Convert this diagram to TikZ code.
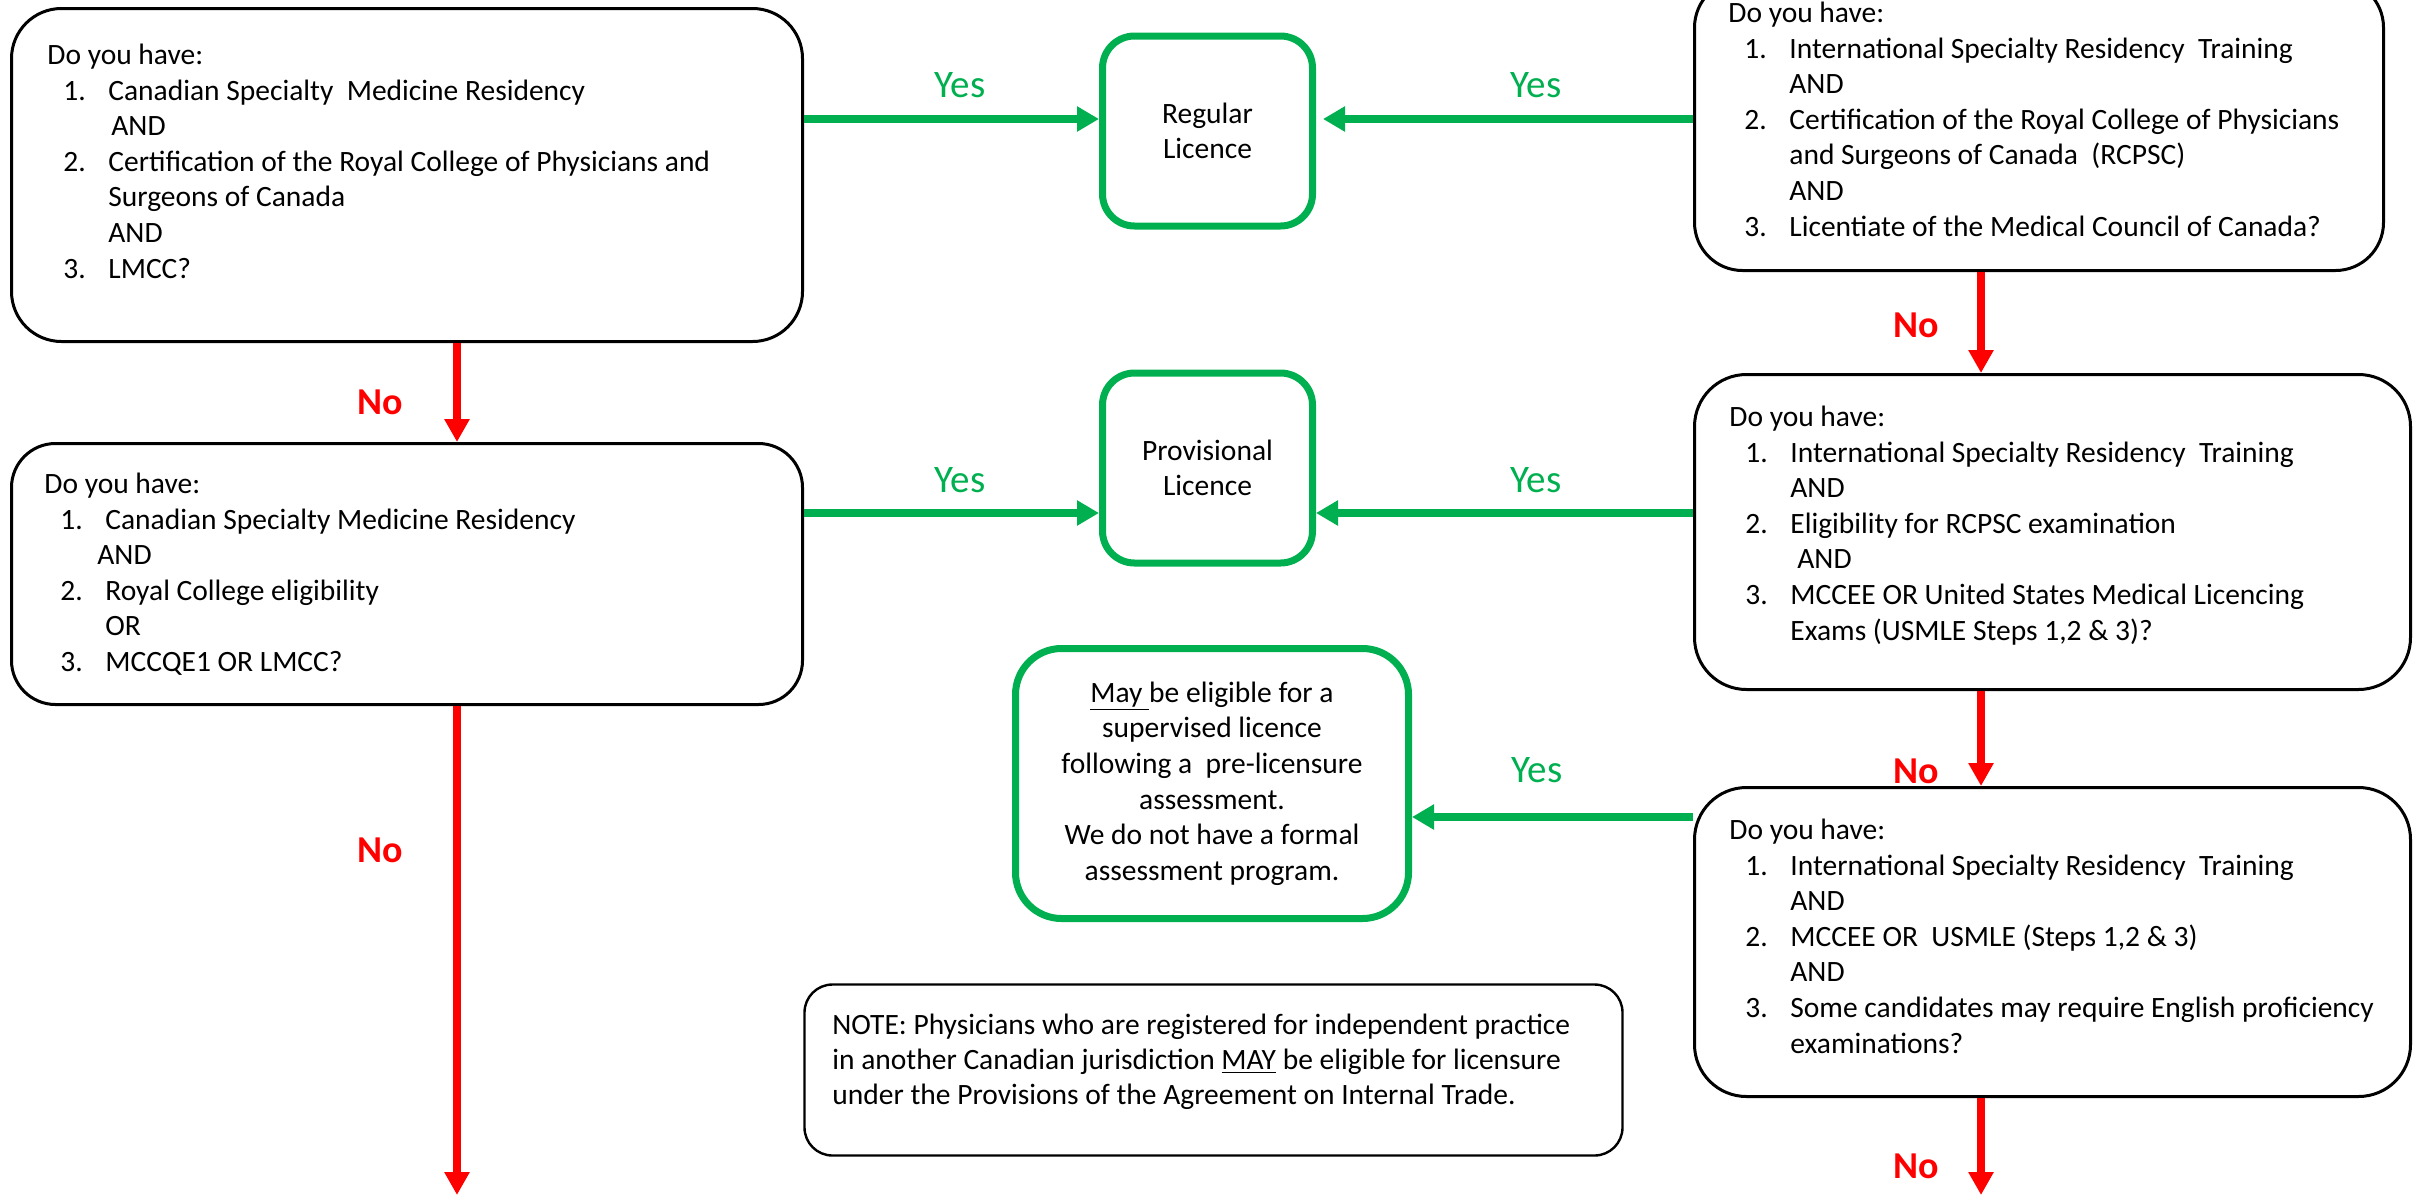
\documentclass[tikz,border=0pt]{standalone}
\usepackage{fontspec}
\setmainfont{Carlito}
\usetikzlibrary{arrows.meta}
\definecolor{ogreen}{HTML}{00B050}
\definecolor{ored}{HTML}{FF0000}
\newcommand{\itm}[2]{\hspace*{8pt}\makebox[22.5pt][l]{#1}#2}
\newcommand{\cnt}[1]{\hspace*{30.5pt}#1}
\begin{document}
\begin{tikzpicture}[x=0.5pt,y=-0.5pt,
  qbox/.style={draw=black, line width=1.5pt, rounded corners=#1, inner sep=0pt, fill=white},
  qbox/.default=25pt,
  gbox/.style={draw=ogreen, line width=3.5pt, rounded corners=#1, inner sep=0pt, align=center,
    font=\fontsize{14.75pt}{17.8pt}\selectfont},
  gbox/.default=16pt,
  qtext/.style={anchor=north west, align=left, inner sep=0pt, font=\fontsize{14.75pt}{17.8pt}\selectfont},
  garrow/.style={draw=ogreen, line width=4pt, -{Triangle[length=11pt,width=12pt]}},
  rarrow/.style={draw=ored, line width=4pt, -{Triangle[length=11.5pt,width=12pt]}},
  ylab/.style={text=ogreen, font=\fontsize{19.5pt}{23pt}\selectfont, anchor=base, inner sep=0pt},
  nlab/.style={text=ored, font=\fontsize{19pt}{23pt}\selectfont\bfseries, anchor=base, inner sep=0pt}]
\useasboundingbox[fill=white] (0,0) rectangle (2416,1195);

% question boxes
\node[qbox=25pt, minimum width=395.5pt, minimum height=166.5pt] (A) at (407,175) {};
\node[qbox=22pt, minimum width=395.5pt, minimum height=130.5pt] (B) at (407,574) {};
\node[qbox=24pt, minimum width=344.5pt, minimum height=145.5pt] (C) at (2039,125) {};
\node[qbox=26pt, minimum width=358pt, minimum height=157.5pt] (D) at (2052.5,532) {};
\node[qbox=26pt, minimum width=358pt, minimum height=154.5pt] (E) at (2052.5,942) {};
\node[qbox=14pt, line width=1.2pt, minimum width=409pt, minimum height=85.5pt] (N) at (1213.5,1070) {};

% outcome boxes
\node[gbox=16pt, minimum width=105pt, minimum height=95pt] (R) at (1207.5,131) {Regular\\Licence};
\node[gbox=16pt, minimum width=105pt, minimum height=95pt] (P) at (1207.5,468) {Provisional\\Licence};
\node[gbox=23pt, minimum width=196.5pt, minimum height=135pt] (S) at (1212,783.5)
  {\underline{May\ }be eligible for a\\supervised licence\\following a\ \ pre-licensure\\assessment.\\We do not have a formal\\assessment program.};

% texts of question boxes
\node[qtext] (tA) at (47,40) {\rule{0pt}{12pt}Do you have:\\
  \itm{1.}{Canadian Specialty\ \ Medicine Residency}\\
  \hspace*{32pt}AND\\
  \itm{2.}{Certification of the Royal College of Physicians and}\\
  \cnt{Surgeons of Canada}\\
  \cnt{AND}\\
  \itm{3.}{LMCC?}};
\node[qtext] (tB) at (44,469) {\rule{0pt}{12pt}Do you have:\\
  \itm{1.}{Canadian Specialty Medicine Residency}\\
  \hspace*{26.5pt}AND\\
  \itm{2.}{Royal College eligibility}\\
  \cnt{OR}\\
  \itm{3.}{MCCQE1 OR LMCC?}};
\node[qtext] (tC) at (1728,-2) {\rule{0pt}{12pt}Do you have:\\
  \itm{1.}{International Specialty Residency\ \ Training}\\
  \cnt{AND}\\
  \itm{2.}{Certification of the Royal College of Physicians}\\
  \cnt{and Surgeons of Canada\ \ (RCPSC)}\\
  \cnt{AND}\\
  \itm{3.}{Licentiate of the Medical Council of Canada?}};
\node[qtext] (tD) at (1729,402) {\rule{0pt}{12pt}Do you have:\\
  \itm{1.}{International Specialty Residency\ \ Training}\\
  \cnt{AND}\\
  \itm{2.}{Eligibility for RCPSC examination}\\
  \hspace*{34pt}AND\\
  \itm{3.}{MCCEE OR United States Medical Licencing}\\
  \cnt{Exams (USMLE Steps 1,2 \& 3)?}};
\node[qtext] (tE) at (1729,815) {\rule{0pt}{12pt}Do you have:\\
  \itm{1.}{International Specialty Residency\ \ Training}\\
  \cnt{AND}\\
  \itm{2.}{MCCEE OR\ \ USMLE (Steps 1,2 \& 3)}\\
  \cnt{AND}\\
  \itm{3.}{Some candidates may require English proficiency}\\
  \cnt{examinations?}};
\node[qtext, font=\fontsize{14.75pt}{17.5pt}\selectfont] (tN) at (832,1010) {\rule{0pt}{12pt}NOTE: Physicians who are registered for independent practice\\
  in another Canadian jurisdiction \underline{MAY} be eligible for licensure\\
  under the Provisions of the Agreement on Internal Trade.};

% helper coordinates
\coordinate (ya) at (0,119);
\coordinate (yb) at (0,513);
\coordinate (yc) at (0,817);
\coordinate (xl) at (457,0);
\coordinate (xr) at (1981,0);
\coordinate (endL) at (457,1195);
\coordinate (endR) at (1981,1195);

% yes connectors
\draw[garrow] (A.east |- ya) -- (R.west |- ya);
\draw[garrow, shorten >=3.5pt] (C.west |- ya) -- (R.east |- ya);
\draw[garrow] (B.east |- yb) -- (P.west |- yb);
\draw[garrow] (D.west |- yb) -- (P.east |- yb);
\draw[garrow] (E.west |- yc) -- (S.east |- yc);

% no connectors
\draw[rarrow] (xl |- A.south) -- (xl |- B.north);
\draw[rarrow] (xl |- B.south) -- (endL);
\draw[rarrow] (xr |- C.south) -- (xr |- D.north);
\draw[rarrow] (xr |- D.south) -- (xr |- E.north);
\draw[rarrow] (xr |- E.south) -- (endR);

% labels
\node[ylab] (y1) at (960,97) {Yes};
\node[ylab] (y2) at (1536,97) {Yes};
\node[ylab] (y3) at (960,492) {Yes};
\node[ylab] (y4) at (1536,492) {Yes};
\node[ylab] (y5) at (1537,782) {Yes};
\node[nlab] (n1) at (380,414) {No};
\node[nlab] (n2) at (1916,337) {No};
\node[nlab] (n3) at (1916,783) {No};
\node[nlab] (n4) at (380,862) {No};
\node[nlab] (n5) at (1916,1178) {No};
\end{tikzpicture}
\end{document}
